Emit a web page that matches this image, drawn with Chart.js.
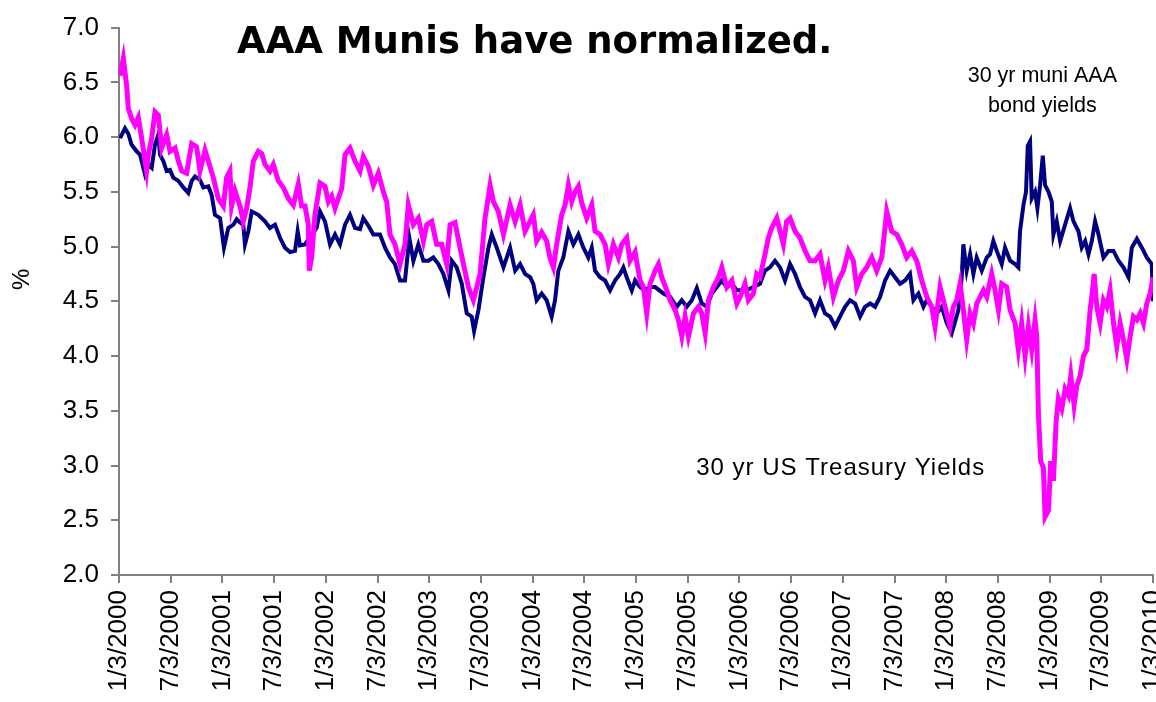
<!DOCTYPE html>
<html>
<head>
<meta charset="utf-8">
<script src="https://cdn.jsdelivr.net/npm/chart.js@4.4.0/dist/chart.umd.min.js"></script>
<style>
html,body{margin:0;padding:0;background:#ffffff;}
#wrap{width:1156px;height:702px;position:relative;}
</style>
</head>
<body>
<div id="wrap"><canvas id="c" width="1156" height="702"></canvas></div>
<script>
// x values are years elapsed since 1/3/2000
const tickLabels = ['1/3/2000','7/3/2000','1/3/2001','7/3/2001','1/3/2002','7/3/2002','1/3/2003','7/3/2003','1/3/2004','7/3/2004','1/3/2005','7/3/2005','1/3/2006','7/3/2006','1/3/2007','7/3/2007','1/3/2008','7/3/2008','1/3/2009','7/3/2009','1/3/2010'];

const tsyYears = [0.01,0.042,0.074,0.090,0.122,0.155,0.187,0.219,0.267,0.284,0.316,0.348,0.380,0.413,0.461,0.493,0.542,0.574,0.606,0.654,0.703,0.751,0.783,0.832,0.864,0.912,0.960,1.009,1.041,1.073,1.089,1.122,1.170,1.202,1.235,1.267,1.299,1.347,1.380,1.412,1.460,1.492,1.541,1.589,1.637,1.686,1.734,1.766,1.799,1.831,1.840,1.863,1.895,1.944,
1.992,2.025,2.057,2.089,2.121,2.154,2.186,2.234,2.283,2.331,2.363,2.412,2.460,2.508,2.557,2.589,2.621,2.669,2.718,2.766,2.798,2.847,2.895,2.944,2.976,3.024,3.072,3.121,3.169,3.202,3.250,3.298,3.331,3.379,3.427,3.460,3.492,3.540,3.589,3.621,3.669,3.718,3.782,3.831,3.879,3.927,
4.007,4.039,4.088,4.136,4.168,4.201,4.233,4.281,4.314,4.346,4.378,4.410,4.443,4.475,4.523,4.572,4.604,4.652,4.701,4.733,4.781,4.830,4.862,4.910,4.942,4.991,5.039,5.072,5.104,5.136,5.185,5.217,5.249,5.298,5.330,5.378,5.410,5.443,5.475,5.507,5.556,5.604,5.636,5.669,5.701,5.749,5.798,5.830,5.878,5.927,5.975,
6.006,6.054,6.087,6.135,6.167,6.199,6.248,6.280,6.312,6.361,6.393,6.425,6.457,6.490,6.538,6.586,6.635,6.683,6.732,6.780,6.828,6.860,6.909,6.957,7.006,7.054,7.102,7.135,7.183,7.231,7.280,7.328,7.377,7.425,7.473,7.522,7.570,7.618,7.667,7.715,7.764,7.812,7.860,7.892,7.941,7.989,8.037,
8.069,8.102,8.134,8.166,8.198,8.231,8.263,8.295,8.328,8.360,8.392,8.440,8.473,8.505,8.537,8.585,8.618,8.666,8.698,8.730,8.763,8.795,8.827,8.859,8.876,8.892,8.914,8.940,8.956,8.989,9.011,9.037,9.063,9.085,9.118,9.150,9.182,9.205,9.237,9.263,9.295,9.327,9.360,9.392,9.408,9.431,9.456,9.489,9.521,9.553,9.585,9.618,9.650,9.682,9.714,9.747,9.779,9.811,9.844,9.876,9.908,9.940,9.972,10.0];

const tsyYield = [6.56,6.72,6.47,6.26,6.17,6.11,6.18,5.99,5.69,5.84,5.99,6.23,6.20,5.90,6.02,5.87,5.90,5.78,5.69,5.67,5.94,5.91,5.69,5.88,5.78,5.63,5.44,5.37,5.63,5.69,5.37,5.51,5.37,5.23,5.35,5.54,5.78,5.87,5.85,5.75,5.69,5.75,5.60,5.54,5.44,5.38,5.57,5.37,5.37,5.20,4.78,4.90,5.29,5.58,
5.55,5.41,5.46,5.35,5.44,5.53,5.84,5.90,5.78,5.69,5.82,5.73,5.56,5.67,5.50,5.41,5.11,5.02,4.84,5.02,5.38,5.20,5.26,5.05,5.20,5.23,5.02,5.02,4.84,5.20,5.22,4.99,4.84,4.63,4.51,4.63,4.75,5.26,5.56,5.41,5.32,5.11,5.38,5.23,5.38,5.14,
5.29,5.05,5.13,5.05,4.90,4.81,5.02,5.29,5.38,5.56,5.41,5.50,5.55,5.40,5.26,5.38,5.14,5.11,5.02,4.84,5.02,4.90,5.02,5.08,4.87,4.95,4.69,4.63,4.39,4.66,4.78,4.84,4.72,4.60,4.51,4.42,4.33,4.18,4.36,4.18,4.39,4.45,4.39,4.21,4.51,4.63,4.72,4.81,4.63,4.69,4.48,
4.54,4.66,4.51,4.57,4.75,4.72,4.93,5.08,5.17,5.26,5.14,5.02,5.23,5.26,5.14,5.08,4.96,4.87,4.87,4.93,4.69,4.81,4.54,4.69,4.78,4.96,4.87,4.63,4.75,4.81,4.90,4.78,4.90,5.32,5.14,5.11,5.02,4.90,4.96,4.87,4.69,4.54,4.45,4.27,4.63,4.45,4.27,
4.45,4.51,4.66,4.42,4.15,4.39,4.30,4.48,4.54,4.60,4.54,4.75,4.60,4.42,4.66,4.63,4.42,4.30,4.06,4.30,4.00,4.27,4.06,4.33,4.18,3.46,3.04,2.98,2.53,2.59,3.04,2.86,3.40,3.61,3.52,3.70,3.64,3.82,3.55,3.73,3.82,4.00,4.06,4.42,4.54,4.75,4.45,4.30,4.51,4.45,4.60,4.30,4.09,4.30,4.15,3.97,4.18,4.36,4.33,4.39,4.30,4.48,4.57,4.72];

const muniYears = [0.01,0.058,0.090,0.122,0.171,0.203,0.251,0.284,0.316,0.348,0.380,0.397,0.429,0.461,0.493,0.525,0.574,0.622,0.670,0.703,0.735,0.783,0.815,0.864,0.896,0.928,0.977,1.015,1.057,1.106,1.138,1.170,1.202,1.218,1.251,1.283,1.347,1.412,1.460,1.509,1.557,1.605,1.654,1.702,1.728,1.750,1.799,1.863,1.911,1.944,
1.992,2.041,2.089,2.137,2.186,2.234,2.283,2.331,2.363,2.412,2.460,2.524,2.573,2.621,2.669,2.718,2.766,2.808,2.847,2.895,2.944,2.992,3.040,3.089,3.137,3.186,3.218,3.266,3.315,3.363,3.411,3.434,3.476,3.524,3.573,3.605,3.653,3.718,3.782,3.831,3.879,3.927,3.976,
4.007,4.039,4.088,4.136,4.184,4.217,4.249,4.297,4.346,4.394,4.443,4.491,4.539,4.572,4.604,4.652,4.701,4.749,4.797,4.846,4.878,4.910,4.959,4.991,5.039,5.088,5.136,5.185,5.266,5.330,5.394,5.443,5.491,5.540,5.588,5.636,5.685,5.733,5.782,5.830,5.878,5.927,5.975,
6.006,6.070,6.135,6.199,6.248,6.296,6.344,6.393,6.441,6.490,6.538,6.586,6.635,6.683,6.732,6.780,6.828,6.877,6.925,6.973,7.022,7.070,7.119,7.167,7.215,7.264,7.312,7.360,7.409,7.457,7.505,7.554,7.602,7.650,7.683,7.731,7.780,7.812,7.860,7.909,7.957,8.006,
8.054,8.118,8.150,8.166,8.198,8.231,8.263,8.295,8.344,8.392,8.424,8.456,8.489,8.537,8.569,8.618,8.666,8.698,8.714,8.747,8.772,8.789,8.811,8.827,8.859,8.882,8.908,8.934,8.956,8.989,9.021,9.037,9.069,9.102,9.150,9.198,9.231,9.279,9.311,9.344,9.376,9.408,9.440,9.473,9.521,9.569,9.618,9.666,9.714,9.763,9.795,9.844,9.892,9.940,9.988,10.0];

const muniYield = [5.99,6.08,6.03,5.93,5.87,5.84,5.66,5.75,5.72,5.93,6.02,5.84,5.78,5.69,5.70,5.63,5.60,5.54,5.49,5.60,5.64,5.61,5.54,5.55,5.47,5.29,5.26,4.99,5.17,5.20,5.25,5.22,5.20,5.02,5.14,5.32,5.29,5.23,5.17,5.20,5.08,4.99,4.95,4.96,5.14,5.01,5.02,5.11,5.17,5.32,
5.23,5.02,5.11,5.02,5.20,5.29,5.17,5.16,5.26,5.19,5.11,5.11,4.99,4.90,4.84,4.69,4.69,5.08,4.87,5.02,4.87,4.87,4.90,4.84,4.75,4.60,4.87,4.81,4.66,4.39,4.36,4.23,4.42,4.72,4.99,5.11,4.99,4.81,4.99,4.78,4.84,4.75,4.72,
4.66,4.51,4.57,4.51,4.36,4.51,4.78,4.90,5.14,5.02,5.11,4.99,4.90,4.99,4.78,4.72,4.69,4.60,4.69,4.75,4.81,4.72,4.60,4.69,4.63,4.60,4.63,4.63,4.57,4.54,4.45,4.51,4.45,4.51,4.62,4.48,4.45,4.57,4.63,4.69,4.63,4.66,4.60,
4.60,4.60,4.63,4.66,4.78,4.81,4.87,4.81,4.69,4.84,4.75,4.63,4.54,4.51,4.39,4.51,4.39,4.36,4.27,4.36,4.45,4.51,4.48,4.36,4.45,4.48,4.45,4.54,4.69,4.78,4.72,4.66,4.69,4.75,4.51,4.57,4.45,4.51,4.45,4.39,4.45,4.30,
4.21,4.42,4.72,5.02,4.78,4.93,4.75,4.90,4.78,4.90,4.93,5.05,4.96,4.84,4.99,4.87,4.84,4.81,5.14,5.38,5.50,5.92,5.96,5.44,5.50,5.35,5.56,5.83,5.56,5.50,5.41,5.11,5.23,5.05,5.20,5.35,5.23,5.14,4.99,5.05,4.93,5.05,5.23,5.11,4.90,4.96,4.96,4.87,4.81,4.72,4.99,5.07,4.99,4.90,4.84,4.50];

const textFont = 'Liberation Sans, Arial, Helvetica, sans-serif';

const notesPlugin = {
  id: 'notes',
  afterDatasetsDraw(chart) {
    const {ctx, scales: {x, y}} = chart;
    ctx.save();
    ctx.fillStyle = '#000000';
    ctx.textAlign = 'center';
    ctx.textBaseline = 'middle';
    ctx.font = 'bold 37px "Comic Sans MS", "DejaVu Sans", sans-serif';
    ctx.fillText('AAA Munis have normalized.', x.getPixelForValue(4.02), y.getPixelForValue(6.86));
    ctx.font = '21.5px ' + textFont;
    ctx.fillText('30 yr muni AAA', x.getPixelForValue(8.93), y.getPixelForValue(6.56));
    ctx.fillText('bond yields', x.getPixelForValue(8.93), y.getPixelForValue(6.28));
    ctx.font = '24px ' + textFont;
    ctx.letterSpacing = '1px';
    ctx.fillText('30 yr US Treasury Yields', x.getPixelForValue(6.98), y.getPixelForValue(2.97));
    ctx.letterSpacing = '0px';
    // y axis unit label
    ctx.translate(22, y.getPixelForValue(4.70));
    ctx.rotate(-Math.PI / 2);
    ctx.font = '24px ' + textFont;
    ctx.fillText('%', 0, 0);
    ctx.restore();
  }
};

new Chart(document.getElementById('c').getContext('2d'), {
  type: 'line',
  data: {
    datasets: [
      {
        label: '30 yr US Treasury Yields',
        data: tsyYears.map((t, i) => ({x: t, y: tsyYield[i]})),
        borderColor: '#FF00FF',
        borderWidth: 5,
        pointRadius: 0,
        tension: 0,
        fill: false,
        order: 0
      },
      {
        label: '30 yr muni AAA bond yields',
        data: muniYears.map((t, i) => ({x: t, y: muniYield[i]})),
        borderColor: '#000080',
        borderWidth: 4,
        pointRadius: 0,
        tension: 0,
        fill: false,
        order: 1
      }
    ]
  },
  options: {
    responsive: false,
    animation: false,
    layout: {padding: {top: 21, right: 3, left: 0, bottom: 0}},
    plugins: {legend: {display: false}, tooltip: {enabled: false}, title: {display: false}},
    scales: {
      x: {
        type: 'linear', min: 0, max: 10,
        ticks: {
          stepSize: 0.5, autoSkip: false, maxRotation: 90, minRotation: 90, padding: 7,
          color: '#000000', font: {family: textFont, size: 26},
          callback: (v) => tickLabels[Math.round(v * 2)]
        },
        grid: {display: true, drawOnChartArea: false, drawTicks: true, tickLength: 8, color: '#808080', lineWidth: 2},
        border: {display: true, color: '#808080', width: 2},
        afterFit: (s) => { s.height = 127; s.paddingLeft = 0; s.paddingRight = 0; }
      },
      y: {
        min: 2, max: 7,
        ticks: {
          stepSize: 0.5, padding: 12, color: '#000000', font: {family: textFont, size: 26},
          callback: (v) => Number(v).toFixed(1)
        },
        title: {display: false},
        grid: {display: true, drawOnChartArea: false, drawTicks: true, tickLength: 8, color: '#808080', lineWidth: 2},
        border: {display: true, color: '#808080', width: 2},
        afterFit: (s) => { s.width = 119; }
      }
    }
  },
  plugins: [notesPlugin]
});
</script>
</body>
</html>
